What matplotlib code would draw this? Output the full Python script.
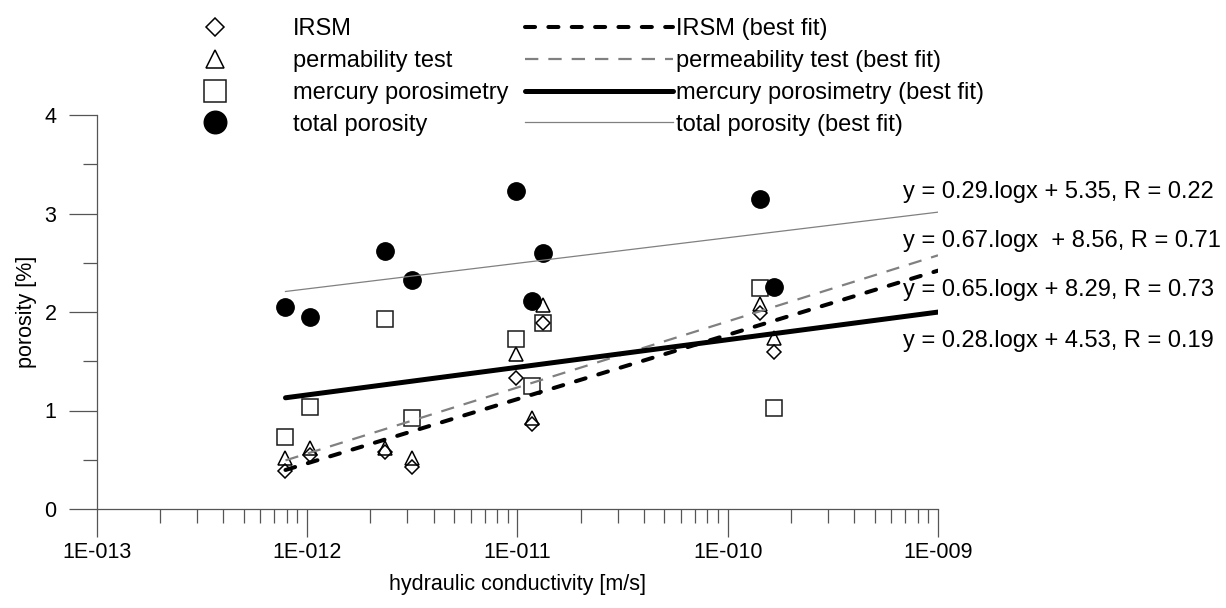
import numpy as np
import matplotlib
matplotlib.use("Agg")
import matplotlib.pyplot as plt
from matplotlib.ticker import FixedLocator, LogLocator, NullFormatter, MultipleLocator

# hydraulic conductivity of the samples [m/s]
conductivity = [7.9e-13, 1.03e-12, 2.36e-12, 3.17e-12, 9.8e-12, 1.18e-11, 1.33e-11, 1.42e-10, 1.66e-10]

# porosity [%] obtained with each method
irsm = [0.39, 0.55, 0.58, 0.43, 1.33, 0.86, 1.89, 1.99, 1.59]
permeability = [0.52, 0.62, 0.62, 0.52, 1.57, 0.92, 2.07, 2.08, 1.74]
mercury = [0.73, 1.04, 1.93, 0.92, 1.73, 1.25, 1.89, 2.24, 1.03]
total = [2.05, 1.95, 2.62, 2.32, 3.23, 2.11, 2.60, 3.15, 2.25]

point_labels = ["IRSM", "permability test", "mercury porosimetry", "total porosity"]
fit_labels = ["IRSM (best fit)", "permeability test (best fit)",
              "mercury porosimetry (best fit)", "total porosity (best fit)"]
equations = ["y = 0.29.logx + 5.35, R = 0.22",
             "y = 0.67.logx  + 8.56, R = 0.71",
             "y = 0.65.logx + 8.29, R = 0.73",
             "y = 0.28.logx + 4.53, R = 0.19"]
equation_levels = [3.22, 2.72, 2.22, 1.71]

x_ticks = [1e-13, 1e-12, 1e-11, 1e-10, 1e-9]
x_tick_labels = ["1E-013", "1E-012", "1E-011", "1E-010", "1E-009"]
y_ticks = [0, 1, 2, 3, 4]

plt.rcParams["font.family"] = ["Liberation Sans", "DejaVu Sans"]
FS = 15.5      # axis text
FS_BIG = 17.0  # legend and equations

fig = plt.figure(figsize=(12.26, 6.08), dpi=100)
ax = fig.add_axes([96.7 / 1226, 1 - 509 / 608, (938 - 96.7) / 1226, (509 - 115) / 608])

x = np.array(conductivity)
lx = np.log10(x)
x_end = x_ticks[-1]

marker_kw = dict(linestyle="none", markeredgecolor="black", markerfacecolor="none",
                 markeredgewidth=1.1)
h_irsm, = ax.plot(x, irsm, marker="D", markersize=7.4, **marker_kw)
h_perm, = ax.plot(x, permeability, marker="^", markersize=9.5, **marker_kw)
h_merc, = ax.plot(x, mercury, marker="s", markersize=12.0, linestyle="none",
                  markeredgecolor="#1a1a1a", markerfacecolor="none", markeredgewidth=1.1)
h_tot, = ax.plot(x, total, marker="o", markersize=12.5, linestyle="none",
                 color="black")


def fit_line(values):
    slope, intercept = np.polyfit(lx, np.array(values), 1)
    xs = np.array([x.min(), x_end])
    return xs, slope * np.log10(xs) + intercept


xs, ys = fit_line(irsm)
f_irsm, = ax.plot(xs, ys, color="black", lw=2.9, dashes=(2.5, 3.3),
                  dash_capstyle="round", zorder=3)
xs, ys = fit_line(permeability)
f_perm, = ax.plot(xs, ys, color="#808080", lw=1.6, dashes=(6.0, 4.5), zorder=3)
xs, ys = fit_line(mercury)
f_merc, = ax.plot(xs, ys, color="black", lw=3.6, solid_capstyle="round", zorder=3)
xs, ys = fit_line(total)
f_tot, = ax.plot(xs, ys, color="#808080", lw=0.9, zorder=3)

ax.set_xscale("log")
ax.set_xlim(1e-13, 1e-9)
ax.set_ylim(0, 4)

ax.xaxis.set_major_locator(FixedLocator(x_ticks))
ax.set_xticklabels(x_tick_labels)
ax.xaxis.set_minor_locator(LogLocator(base=10, subs=np.arange(2, 10)))
ax.xaxis.set_minor_formatter(NullFormatter())
ax.yaxis.set_major_locator(FixedLocator(y_ticks))
ax.yaxis.set_minor_locator(MultipleLocator(0.5))

for s in ("top", "right"):
    ax.spines[s].set_visible(False)
for s in ("left", "bottom"):
    ax.spines[s].set_color("#555555")
    ax.spines[s].set_linewidth(0.9)

ax.tick_params(which="major", direction="out", length=20, width=0.9, color="#555555",
               labelsize=FS)
ax.tick_params(which="minor", direction="out", length=10, width=0.9, color="#555555")
ax.tick_params(axis="x", which="major", pad=4)
ax.tick_params(axis="y", which="major", pad=9)

ax.set_xlabel("hydraulic conductivity [m/s]", fontsize=FS, labelpad=8)
ax.set_ylabel("porosity [%]", fontsize=FS, labelpad=5)

for text, level in zip(equations, equation_levels):
    ax.text(0.958, level, text, transform=ax.get_yaxis_transform(),
            fontsize=FS_BIG, ha="left", va="center")

fig.legend([h_irsm, h_perm, h_merc, h_tot, f_irsm, f_perm, f_merc, f_tot],
           point_labels + fit_labels, ncol=2, loc="upper left",
           bbox_to_anchor=(141 / 1226, 1 - 18 / 608), frameon=False, fontsize=FS_BIG,
           borderpad=0, borderaxespad=0, handlelength=6.3, handletextpad=0.12,
           columnspacing=0.7, labelspacing=0.42, numpoints=1, markerscale=1.3)

fig.savefig("out.png", dpi=100)
